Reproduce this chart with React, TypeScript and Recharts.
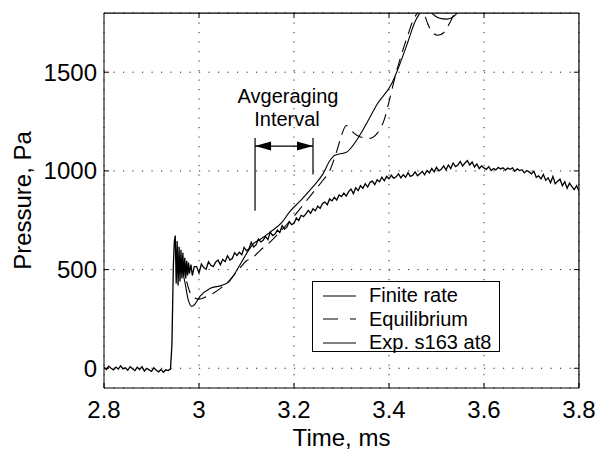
import { LineChart, Line, XAxis, YAxis, CartesianGrid, ReferenceLine, Legend } from "recharts"

// experimental trace, quiet part before the shock (2.800 .. 2.940, step 0.005)
const expPreStart = 2.8
const expPre = [4, -6, 10, 0, -8, 6, -4, 12, -3, 2, -10, 8, -2, -12, 5, -6, 8, -14, 0, -8, -16, 2, -10, -18, -6, -20, -8, -12, -4]

// shock arrival, irregular sampling
const expShock: [number, number][] = [
  [2.943, 120], [2.946, 520], [2.948, 640], [2.95, 672], [2.952, 430], [2.954, 645], [2.956, 420],
  [2.958, 615], [2.96, 440], [2.962, 600], [2.964, 455], [2.966, 585], [2.968, 465], [2.97, 560],
  [2.972, 455], [2.974, 545], [2.976, 470], [2.978, 535], [2.98, 480], [2.983, 525], [2.986, 470], [2.99, 515],
]

// after the shock (2.995 .. 3.800, step 0.005)
const expPostStart = 2.995
const expPost = [
  515, 482, 528, 510, 502, 540, 522, 515, 538, 548, 525, 552, 540, 570, 548, 556, 585, 572, 588, 575,
  612, 595, 605, 638, 615, 625, 655, 640, 648, 668, 652, 690, 672, 680, 700, 688, 722, 705, 715, 742,
  728, 735, 762, 748, 775, 768, 782, 800, 785, 808, 798, 822, 810, 835, 842, 828, 858, 848, 866, 852,
  878, 870, 888, 872, 895, 908, 885, 915, 900, 925, 912, 935, 918, 942, 948, 930, 955, 945, 968, 950,
  972, 960, 978, 962, 970, 985, 965, 980, 968, 990, 972, 978, 995, 975, 985, 998, 980, 1002, 990, 1012,
  995, 1018, 1000, 1008, 1025, 1005, 1030, 1012, 1040, 1022, 1030, 1048, 1025, 1040, 1052, 1030, 1045, 1020, 1035, 1012,
  1025, 1015, 1008, 1022, 1002, 1012, 1005, 1018, 1010, 1016, 1004, 1014, 1008, 1015, 998, 1010, 1002, 1006, 990, 1002,
  995, 985, 998, 968, 975, 960, 982, 952, 965, 940, 972, 935, 948, 958, 925, 945, 912, 938, 920, 905,
  925, 898,
]

const finiteT = [2.962, 2.97, 2.977, 2.985, 2.993, 3.002, 3.023, 3.048, 3.062, 3.075, 3.09, 3.105, 3.114, 3.13, 3.15, 3.175, 3.19, 3.213, 3.24, 3.261, 3.275, 3.285, 3.3, 3.31, 3.335, 3.355, 3.375, 3.406, 3.417, 3.438, 3.455, 3.465, 3.475, 3.49, 3.505, 3.522, 3.54, 3.55, 3.565]
const finiteP = [520, 440, 350, 313, 330, 364, 404, 420, 436, 478, 540, 600, 630, 655, 690, 740, 790, 848, 920, 985, 1050, 1078, 1088, 1094, 1167, 1250, 1338, 1444, 1505, 1641, 1757, 1800, 1840, 1800, 1775, 1769, 1790, 1830, 1900]

const equilT = [2.974, 2.98, 2.99, 3.0, 3.015, 3.03, 3.045, 3.06, 3.08, 3.1, 3.115, 3.13, 3.15, 3.17, 3.2, 3.22, 3.24, 3.26, 3.275, 3.29, 3.3, 3.31, 3.32, 3.34, 3.36, 3.375, 3.39, 3.4, 3.41, 3.425, 3.44, 3.45, 3.46, 3.47, 3.48, 3.49, 3.503, 3.515, 3.53, 3.54, 3.55]
const equilP = [440, 390, 358, 350, 362, 380, 405, 435, 490, 545, 565, 600, 640, 690, 770, 830, 890, 950, 1000, 1100, 1180, 1230, 1205, 1172, 1165, 1190, 1260, 1350, 1450, 1580, 1690, 1760, 1800, 1820, 1755, 1705, 1687, 1700, 1760, 1810, 1860]

const xTicks = [2.8, 3, 3.2, 3.4, 3.6, 3.8]
const yTicks = [0, 500, 1000, 1500]
const xDomain = [2.8, 3.8]
const yDomain = [-100, 1800]

// top / right sides of the box, a hair inside the domain so they are not discarded
const frameTop = 1799.6
const frameRight = 3.7999
const frameBottom = -99.6
const frameLeft = 2.8001

// averaging interval annotation (ms, Pa)
const avgStart = 3.118
const avgEnd = 3.24
const avgArrowP = 1126
const avgTopP = 1167
const avgStartBottomP = 798
const avgEndBottomP = 982

const legendItems = [
  { name: "Finite rate", dash: undefined as string | undefined },
  { name: "Equilibrium", dash: "15 12" },
  { name: "Exp. s163 at8", dash: undefined as string | undefined },
]

const expData = [
  ...expPre.map((p, i) => ({ t: +(expPreStart + i * 0.005).toFixed(3), p })),
  ...expShock.map(([t, p]) => ({ t, p })),
  ...expPost.map((p, i) => ({ t: +(expPostStart + i * 0.005).toFixed(3), p })),
]
const finiteData = finiteT.map((t, i) => ({ t, p: finiteP[i] }))
const equilData = equilT.map((t, i) => ({ t, p: equilP[i] }))

const FONT = "'Liberation Sans', Arial, Helvetica, sans-serif"

// inward tick marks on the top and right sides
function TopTick(props: any) {
  const { x1, y1 } = props
  return <line x1={x1} y1={y1} x2={x1} y2={y1 + 5} stroke="#000" strokeWidth={1} />
}
function RightTick(props: any) {
  const { x1, y1 } = props
  return <line x1={x1} y1={y1} x2={x1 - 5} y2={y1} stroke="#000" strokeWidth={1} />
}

function ArrowShape(props: any) {
  const { x1, y1, x2 } = props
  const mid = (x1 + x2) / 2
  return (
    <g>
      <line x1={x1} y1={y1} x2={x2} y2={y1} stroke="#000" strokeWidth={1.2} />
      <polygon points={`${x1},${y1} ${x1 + 16},${y1 - 4.5} ${x1 + 16},${y1 + 4.5}`} fill="#000" />
      <polygon points={`${x2},${y1} ${x2 - 16},${y1 - 4.5} ${x2 - 16},${y1 + 4.5}`} fill="#000" />
      <text x={mid + 4} y={y1 - 50} textAnchor="middle" dominantBaseline="central" fontSize={20} fontFamily={FONT} fill="#000">
        Avgeraging
      </text>
      <text x={mid + 3} y={y1 - 27} textAnchor="middle" dominantBaseline="central" fontSize={20} fontFamily={FONT} fill="#000">
        Interval
      </text>
    </g>
  )
}

function LegendBox() {
  return (
    <div style={{ border: "1.3px solid #000", background: "#fff", width: 188, height: 71, fontFamily: FONT, fontSize: 20, color: "#000", boxSizing: "border-box", paddingTop: 2 }}>
      {legendItems.map((it) => (
        <div key={it.name} style={{ display: "flex", alignItems: "center", height: 23.5 }}>
          <svg width={56} height={10} style={{ flex: "none" }}>
            <line x1={10} y1={5} x2={43} y2={5} stroke="#000" strokeWidth={1.2} strokeDasharray={it.dash} />
          </svg>
          <span style={{ lineHeight: "23px" }}>{it.name}</span>
        </div>
      ))}
    </div>
  )
}

export default function App() {
  const tick = { fill: "#000", fontSize: 24, fontFamily: FONT }
  return (
    <div style={{ position: "absolute", left: 0, top: 0, background: "#fff", fontFamily: FONT }}>
      <LineChart width={596} height={450} margin={{ top: 13, right: 17, bottom: 0, left: 0 }}>
        <CartesianGrid stroke="#222" strokeDasharray="1.2 8.3" vertical horizontal />
        <XAxis
          dataKey="t"
          type="number"
          domain={xDomain}
          ticks={xTicks}
          allowDataOverflow
          height={62}
          tick={tick}
          tickSize={-5}
          tickMargin={18}
          stroke="#000"
          label={{
            content: (p: any) => {
              const vb = p.viewBox
              return (
                <text x={vb.x + vb.width / 2} y={437} textAnchor="middle" dominantBaseline="central" fontSize={24} fontFamily={FONT} fill="#000">
                  Time, ms
                </text>
              )
            },
          }}
        />
        <YAxis
          type="number"
          domain={yDomain}
          ticks={yTicks}
          allowDataOverflow
          width={104}
          tick={tick}
          tickSize={-5}
          tickMargin={12}
          stroke="#000"
          label={{
            content: (p: any) => {
              const vb = p.viewBox
              const cy = vb.y + vb.height / 2
              return (
                <text x={22} y={cy} transform={`rotate(-90, 22, ${cy})`} textAnchor="middle" dominantBaseline="central" fontSize={24} fontFamily={FONT} fill="#000">
                  Pressure, Pa
                </text>
              )
            },
          }}
        />

        {/* top and right sides of the box */}
        <ReferenceLine segment={[{ x: frameLeft, y: frameTop }, { x: frameRight, y: frameTop }]} stroke="#000" strokeWidth={1.2} />
        <ReferenceLine segment={[{ x: frameRight, y: frameBottom }, { x: frameRight, y: frameTop }]} stroke="#000" strokeWidth={1.2} />
        {xTicks.slice(1, -1).map((t) => (
          <ReferenceLine key={`tt${t}`} segment={[{ x: t, y: frameTop }, { x: t, y: frameTop }]} shape={TopTick} />
        ))}
        {yTicks.map((p) => (
          <ReferenceLine key={`rt${p}`} segment={[{ x: frameRight, y: p }, { x: frameRight, y: p }]} shape={RightTick} />
        ))}

        <ReferenceLine segment={[{ x: avgStart, y: avgTopP }, { x: avgStart, y: avgStartBottomP }]} stroke="#000" strokeWidth={1.2} />
        <ReferenceLine segment={[{ x: avgEnd, y: avgTopP }, { x: avgEnd, y: avgEndBottomP }]} stroke="#000" strokeWidth={1.2} />
        <ReferenceLine segment={[{ x: avgStart, y: avgArrowP }, { x: avgEnd, y: avgArrowP }]} shape={ArrowShape} />

        <Line data={finiteData} dataKey="p" name="Finite rate" type="monotone" stroke="#000" strokeWidth={1.1} dot={false} isAnimationActive={false} />
        <Line data={equilData} dataKey="p" name="Equilibrium" type="monotone" stroke="#000" strokeWidth={1.1} strokeDasharray="12 7" dot={false} isAnimationActive={false} />
        <Line data={expData} dataKey="p" name="Exp. s163 at8" type="linear" stroke="#000" strokeWidth={1.3} dot={false} isAnimationActive={false} />

        <Legend layout="vertical" align="center" verticalAlign="middle" content={() => <LegendBox />} wrapperStyle={{ left: 312, top: 281, width: 190, height: 73 }} />
      </LineChart>
    </div>
  )
}
